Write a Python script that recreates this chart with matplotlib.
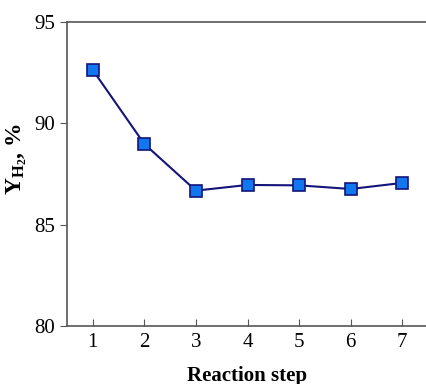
import matplotlib.pyplot as plt

# data
steps = [1, 2, 3, 4, 5, 6, 7]
yield_h2 = [92.63, 88.98, 86.68, 86.96, 86.94, 86.76, 87.06]
y_ticks = [80, 85, 90, 95]

plt.rcParams['font.family'] = 'Liberation Serif'
plt.rcParams['mathtext.fontset'] = 'custom'
plt.rcParams['mathtext.rm'] = 'Liberation Serif'
plt.rcParams['mathtext.bf'] = 'Liberation Serif:bold'

fig = plt.figure(figsize=(4.26, 3.84), dpi=100)
# axes run just past the right edge of the figure (reference is cropped there)
ax = fig.add_axes([67 / 426, 1 - 326 / 384, (428 - 67) / 426, (326 - 22) / 384])

ax.plot(steps, yield_h2, color='#14147a', lw=1.5, marker='s', ms=8,
        mfc='#1177ee', mec='#14147a', mew=1.2)

ax.set_xlim(0.5, 7.5)
ax.set_ylim(80, 95)
ax.set_xticks(steps)
ax.set_yticks(y_ticks)
ax.tick_params(axis='x', direction='in', length=5, labelsize=15, pad=5, color='#555555')
ax.tick_params(axis='y', direction='out', length=5, labelsize=15, color='#555555')
for s in ax.spines.values():
    s.set_color('#555555')
    s.set_linewidth(1.2)

ax.set_xlabel('Reaction step', fontsize=15, fontweight='bold')
ax.xaxis.set_label_coords(0.5, -0.13)
ax.set_ylabel(r'$\mathbf{Y_{H_2}}$, %', fontsize=17, fontweight='bold')
ax.yaxis.set_label_coords(-0.105, 0.55)

fig.savefig('out.png', dpi=100)
